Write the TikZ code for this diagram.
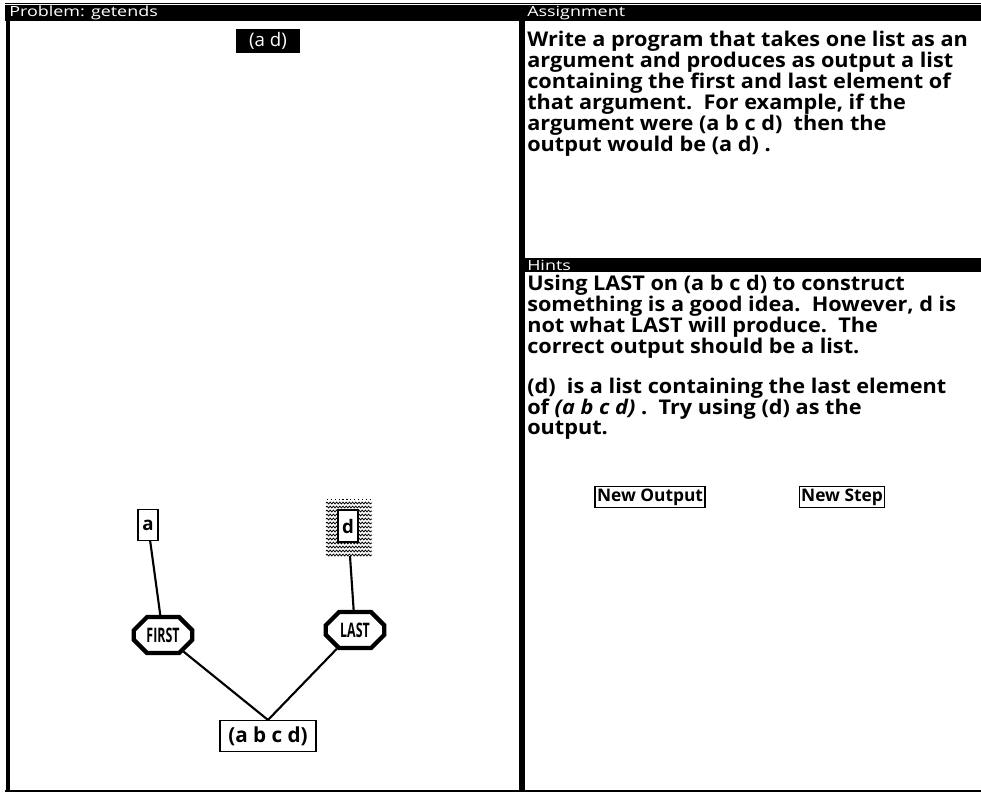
\documentclass[tikz,border=0pt]{standalone}
\usepackage{fontspec}
\setmainfont{Open Sans}
\newfontfamily\widefont[FakeStretch=1.07]{Open Sans}
\newfontfamily\hdrfont[FakeStretch=1.28]{Open Sans}
\usetikzlibrary{shapes.misc,decorations.pathmorphing}
\begin{document}
\begin{tikzpicture}[x=0.75pt,y=-0.75pt,
  txt/.style={anchor=west,inner sep=0pt,font=\widefont\fontsize{15.2}{18}\selectfont\bfseries},
  hdr/.style={anchor=west,inner sep=0pt,text=white,font=\hdrfont\fontsize{10.5}{12}\selectfont},
  valbox/.style={draw,fill=white,line width=1.1pt,inner sep=2pt,font=\fontsize{14}{16}\selectfont\bfseries},
  func/.style={draw,fill=white,chamfered rectangle,chamfered rectangle xsep=5pt,chamfered rectangle ysep=5pt,line width=3.2pt,minimum width=44pt,minimum height=27pt,inner sep=1pt,font=\fontsize{15}{17}\selectfont\bfseries},
  btn/.style={draw,line width=1pt,inner xsep=1.5pt,inner ysep=1.5pt,font=\fontsize{13}{15}\selectfont\bfseries},
  conn/.style={line width=1.6pt},
  hatchline/.style={black,line width=0.6pt,decorate,decoration={snake,amplitude=0.7pt,segment length=2.4pt}}]
\useasboundingbox (0,0) rectangle (981,794);
% frames
\fill[black] (5,5) rectangle (519,21);
\fill[black] (523,5) rectangle (981,21);
\fill[black] (523,258) rectangle (981,272);
\draw[line width=1pt] (5,3.5) -- (981,3.5);
\draw[line width=3pt] (8,5) -- (8,790);
\draw[line width=4.5pt] (521.5,5) -- (521.5,791);
\draw[line width=1.5pt] (5,790.5) -- (981,790.5);
\node[hdr] (h1) at (9,13) {Problem: getends};
\node[hdr] (h2) at (527,13) {Assignment};
\node[hdr] (h3) at (527,265) {Hints};
% output
\node[fill=black,text=white,minimum width=48pt,minimum height=18pt,inner sep=1pt,font=\fontsize{14}{16}\selectfont] (out) at (268,41) {(a d)};
% hatch around d
\foreach \yy in {503,507,...,555} \draw[hatchline] (326,\yy) -- (372,\yy);
\draw[black,dotted,line width=0.9pt] (327,499.5) -- (371,499.5);
% graph
\node[valbox,minimum width=15pt,minimum height=23pt] (a) at (148,525) {a};
\node[valbox,minimum width=15pt,minimum height=24pt] (d) at (348,526) {d};
\node[func] (first) at (163,635) {\scalebox{0.62}[1]{FIRST}};
\node[func] (last) at (355,630) {\scalebox{0.62}[1]{LAST}};
\node[valbox,minimum width=72pt,minimum height=23pt,font=\fontsize{15.5}{17}\selectfont\bfseries] (abcd) at (268,736) {(a b c d)};
\coordinate (dh) at (350,556);
\draw[conn] (a) -- (first);
\draw[conn] (dh) -- (last);
\draw[conn] (first) -- (abcd.north);
\draw[conn] (last) -- (abcd.north);
% assignment text
\node[txt] (l1) at (527,41) {Write a program that takes one list as an};
\node[txt] (l2) at (527,62) {argument and produces as output a list};
\node[txt] (l3) at (527,83) {containing the first and last element of};
\node[txt] (l4) at (527,104) {that argument.\ \ For example, if the};
\node[txt] (l5) at (527,125) {argument were (a b c d)\ \ then the};
\node[txt] (l6) at (527,146) {output would be (a d) .};
% hints text
\node[txt] (k1) at (527,285) {Using LAST on (a b c d) to construct};
\node[txt] (k2) at (527,306) {something is a good idea.\ \ However, d is};
\node[txt] (k3) at (527,327) {not what LAST will produce.\ \ The};
\node[txt] (k4) at (527,348) {correct output should be a list.};
\node[txt] (k5) at (527,388) {(d)\ \ is a list containing the last element};
\node[txt] (k6) at (527,409) {of \textit{(a b c d)} .\ \ Try using (d) as the};
\node[txt] (k7) at (527,430) {output.};
% buttons
\node[btn] (b1) at (650,497) {New Output};
\node[btn] (b2) at (842,497) {New Step};
\end{tikzpicture}
\end{document}
